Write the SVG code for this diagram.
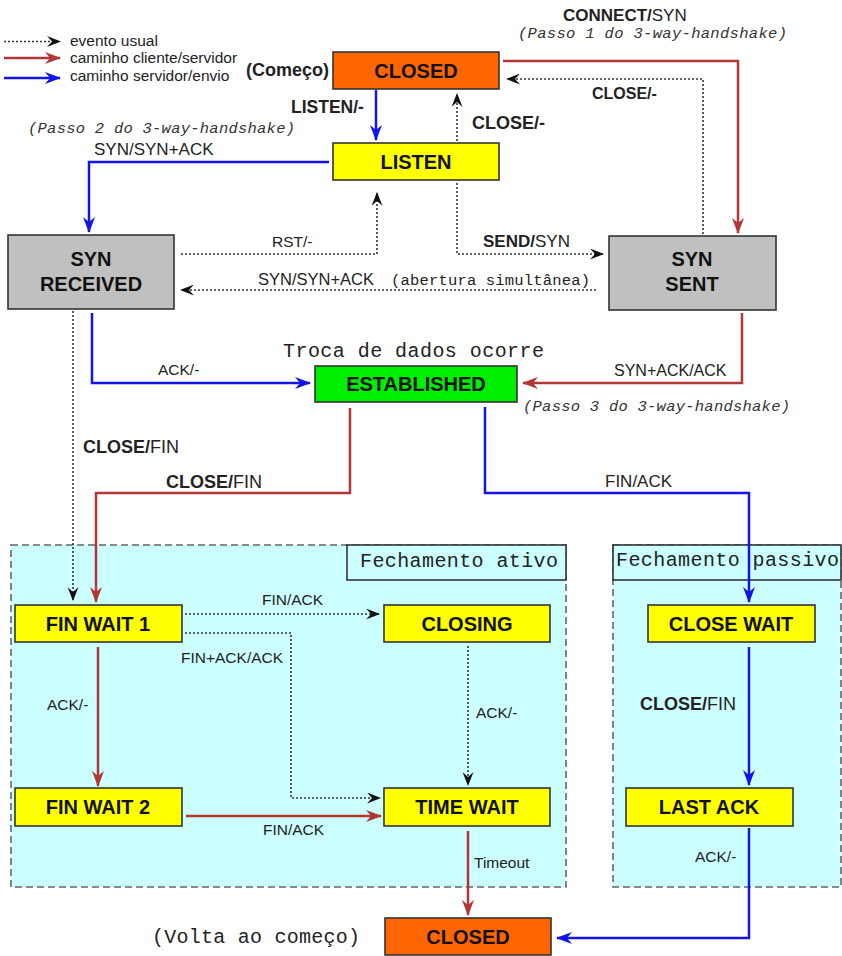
<svg xmlns="http://www.w3.org/2000/svg" width="842" height="956" viewBox="0 0 842 956">
<style>
.st{stroke:#333;stroke-width:1.6}
.sn{font-family:"Liberation Sans",Arial,sans-serif;font-weight:bold;font-size:20px;fill:#111;text-anchor:middle}
.lb{font-family:"Liberation Sans",Arial,sans-serif;font-size:15.5px;fill:#222}
.b{font-weight:bold}
.mono{font-family:"Liberation Mono","Courier New",monospace;fill:#222}
.it{font-style:italic;font-size:15.5px;fill:#333}
.red{fill:none;stroke:#b23636;stroke-width:2.5}
.blue{fill:none;stroke:#1414e6;stroke-width:2.5}
.dot{fill:none;stroke:#333;stroke-width:1.6;stroke-dasharray:2 2}
.region{fill:#ccffff;stroke:#666;stroke-width:1.6;stroke-dasharray:7 4}
.tag{fill:#ccffff;stroke:#333;stroke-width:1.6}
</style>
<defs>
<marker id="ar" markerUnits="userSpaceOnUse" viewBox="0 0 16 12" markerWidth="16" markerHeight="12" refX="15" refY="6" orient="auto"><path d="M0,0 L16,6 L0,12 L5,6 Z" fill="#b23636"/></marker>
<marker id="ab" markerUnits="userSpaceOnUse" viewBox="0 0 16 12" markerWidth="16" markerHeight="12" refX="15" refY="6" orient="auto"><path d="M0,0 L16,6 L0,12 L5,6 Z" fill="#1414e6"/></marker>
<marker id="ak" markerUnits="userSpaceOnUse" viewBox="0 0 14 11" markerWidth="14" markerHeight="11" refX="13" refY="5.5" orient="auto"><path d="M0,0 L14,5.5 L0,11 L5,5.5 Z" fill="#111"/></marker>
</defs>
<rect width="842" height="956" fill="#fff"/>

<g id="legend">
<path class="dot" d="M4,41.5 H60" marker-end="url(#ak)"/>
<path class="red" d="M4,58 H60" marker-end="url(#ar)"/>
<path class="blue" d="M4,78 H60" marker-end="url(#ab)"/>
<text class="lb" x="70" y="46">evento usual</text>
<text class="lb" x="70" y="63">caminho cliente/servidor</text>
<text class="lb" x="70" y="81">caminho servidor/envio</text>
</g>

<g id="region-active">
<rect class="region" x="11" y="545" width="555" height="342"/>
<rect class="tag" x="347" y="545" width="219" height="35"/>
<text class="mono" x="360" y="567" style="font-size:20px" textLength="198" lengthAdjust="spacing">Fechamento ativo</text>
</g>
<g id="region-passive">
<rect class="region" x="613" y="545" width="228" height="342"/>
<rect class="tag" x="613" y="545" width="228" height="35"/>
<text class="mono" x="616" y="566" style="font-size:20px" textLength="223" lengthAdjust="spacing">Fechamento passivo</text>
</g>

<g id="connectors">
<path class="blue" d="M376,90 V140" marker-end="url(#ab)"/>
<path class="red" d="M503,61 H738 V233" marker-end="url(#ar)"/>
<path class="dot" d="M703,234 V79 H507" marker-end="url(#ak)"/>
<path class="dot" d="M457,141 V94" marker-end="url(#ak)"/>
<path class="blue" d="M329,162 H89 V232" marker-end="url(#ab)"/>
<path class="dot" d="M181,254 H377 V193" marker-end="url(#ak)"/>
<path class="dot" d="M457,183 V254 H603" marker-end="url(#ak)"/>
<path class="dot" d="M596,290 H181" marker-end="url(#ak)"/>
<path class="blue" d="M92,313 V383 H310" marker-end="url(#ab)"/>
<path class="red" d="M742,313 V383 H523" marker-end="url(#ar)"/>
<path class="dot" d="M73,311 V600" marker-end="url(#ak)"/>
<path class="red" d="M350,408 V493 H96 V602" marker-end="url(#ar)"/>
<path class="blue" d="M485,407 V493 H749 V602" marker-end="url(#ab)"/>
<path class="dot" d="M185,614 H379" marker-end="url(#ak)"/>
<path class="dot" d="M185,633 H291 V798 H380" marker-end="url(#ak)"/>
<path class="red" d="M98,647 V786" marker-end="url(#ar)"/>
<path class="dot" d="M468,646 V785" marker-end="url(#ak)"/>
<path class="red" d="M186,816 H381" marker-end="url(#ar)"/>
<path class="red" d="M468,831 V915" marker-end="url(#ar)"/>
<path class="blue" d="M749,647 V785" marker-end="url(#ab)"/>
<path class="blue" d="M749,828 V938 H557" marker-end="url(#ab)"/>
</g>

<g id="labels">
<text class="lb b" x="246" y="76" style="font-size:18px">(Começo)</text>
<text class="lb" x="563" y="21" style="font-size:17px"><tspan class="b">CONNECT/</tspan>SYN</text>
<text class="mono it" x="518" y="38" textLength="269" lengthAdjust="spacing">(Passo 1 do 3-way-handshake)</text>
<text class="mono it" x="28" y="133" textLength="267" lengthAdjust="spacing">(Passo 2 do 3-way-handshake)</text>
<text class="mono it" x="523" y="411" textLength="267" lengthAdjust="spacing">(Passo 3 do 3-way-handshake)</text>
<text class="lb b" x="291" y="113" style="font-size:17.5px">LISTEN/-</text>
<text class="lb b" x="592" y="99" style="font-size:16px">CLOSE/-</text>
<text class="lb b" x="472" y="129" style="font-size:18px">CLOSE/-</text>
<text class="lb" x="94" y="155" style="font-size:17px">SYN/SYN+ACK</text>
<text class="lb" x="272" y="247">RST/-</text>
<text class="lb" x="483" y="247" style="font-size:17px"><tspan class="b">SEND/</tspan>SYN</text>
<text class="lb" x="258" y="285" style="font-size:16.5px">SYN/SYN+ACK</text>
<text class="mono" x="391" y="285" style="font-size:15.5px" textLength="199" lengthAdjust="spacing">(abertura simultânea)</text>
<text class="mono" x="283" y="357" style="font-size:20px" textLength="261" lengthAdjust="spacing">Troca de dados ocorre</text>
<text class="lb" x="158" y="375">ACK/-</text>
<text class="lb" x="614" y="376" style="font-size:16px">SYN+ACK/ACK</text>
<text class="lb" x="83" y="453" style="font-size:18px"><tspan class="b">CLOSE/</tspan>FIN</text>
<text class="lb" x="166" y="488" style="font-size:18px"><tspan class="b">CLOSE/</tspan>FIN</text>
<text class="lb" x="605" y="487" style="font-size:17px">FIN/ACK</text>
<text class="lb" x="262" y="605">FIN/ACK</text>
<text class="lb" x="181" y="663">FIN+ACK/ACK</text>
<text class="lb" x="47" y="710">ACK/-</text>
<text class="lb" x="476" y="718">ACK/-</text>
<text class="lb" x="263" y="835">FIN/ACK</text>
<text class="lb" x="474" y="868">Timeout</text>
<text class="lb" x="640" y="710" style="font-size:18px"><tspan class="b">CLOSE/</tspan>FIN</text>
<text class="lb" x="695" y="862">ACK/-</text>
<text class="mono" x="152" y="943" style="font-size:20px" textLength="208" lengthAdjust="spacing">(Volta ao começo)</text>
</g>

<g id="closed-top"><rect class="st" x="333" y="52" width="166" height="37" fill="#ff6600"/><text class="sn" x="416" y="78">CLOSED</text></g>
<g id="listen"><rect class="st" x="333" y="143" width="166" height="37" fill="#ffff00"/><text class="sn" x="416" y="169">LISTEN</text></g>
<g id="syn-received"><rect class="st" x="8" y="235" width="166" height="74" fill="#c0c0c0"/><text class="sn" x="91" y="266">SYN</text><text class="sn" x="91" y="291">RECEIVED</text></g>
<g id="syn-sent"><rect class="st" x="609" y="236" width="167" height="74" fill="#c0c0c0"/><text class="sn" x="692" y="266">SYN</text><text class="sn" x="692" y="291">SENT</text></g>
<g id="established"><rect class="st" x="315" y="366" width="202" height="36" fill="#00ee00"/><text class="sn" x="416" y="391">ESTABLISHED</text></g>
<g id="fin-wait-1"><rect class="st" x="15" y="605" width="167" height="37" fill="#ffff00"/><text class="sn" x="98" y="631">FIN WAIT 1</text></g>
<g id="closing"><rect class="st" x="384" y="605" width="166" height="37" fill="#ffff00"/><text class="sn" x="467" y="631">CLOSING</text></g>
<g id="fin-wait-2"><rect class="st" x="15" y="788" width="167" height="38" fill="#ffff00"/><text class="sn" x="98" y="814">FIN WAIT 2</text></g>
<g id="time-wait"><rect class="st" x="384" y="788" width="166" height="38" fill="#ffff00"/><text class="sn" x="467" y="814">TIME WAIT</text></g>
<g id="close-wait"><rect class="st" x="648" y="605" width="167" height="37" fill="#ffff00"/><text class="sn" x="731" y="631">CLOSE WAIT</text></g>
<g id="last-ack"><rect class="st" x="626" y="788" width="167" height="38" fill="#ffff00"/><text class="sn" x="709" y="814">LAST ACK</text></g>
<g id="closed-bottom"><rect class="st" x="385" y="918" width="166" height="37" fill="#ff6600"/><text class="sn" x="468" y="944">CLOSED</text></g>
</svg>
